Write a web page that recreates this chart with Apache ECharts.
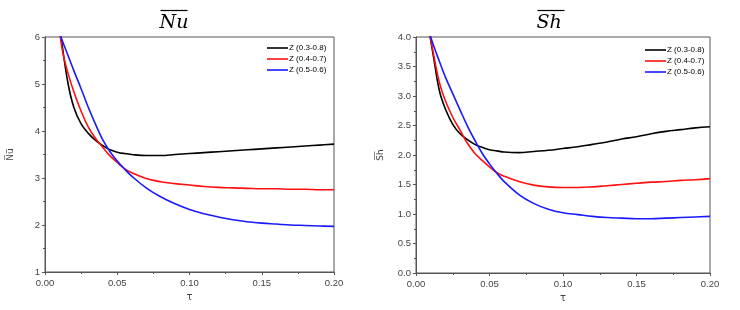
<!DOCTYPE html>
<html>
<head>
<meta charset="utf-8">
<script src="https://cdn.jsdelivr.net/npm/echarts@6/dist/echarts.min.js"></script>
<style>html,body{margin:0;padding:0;background:#fff}#c{width:740px;height:310px}</style>
</head>
<body>
<div id="c"></div>
<script>
var tau = [0.009,0.012,0.016,0.02,0.025,0.03,0.035,0.04,0.045,0.05,0.055,0.06,0.07,0.08,0.09,0.1,0.11,0.12,0.13,0.14,0.15,0.16,0.17,0.18,0.19,0.2];
var seriesNames = ['Z (0.3-0.8)','Z (0.4-0.7)','Z (0.5-0.6)'];
var nuZ38 = [6.5,5.8,5.0,4.5,4.15,3.95,3.8,3.69,3.6,3.55,3.52,3.5,3.48,3.48,3.5,3.52,3.54,3.56,3.58,3.6,3.62,3.64,3.66,3.68,3.7,3.72];
var nuZ47 = [6.45,5.72,5.22,4.83,4.42,4.08,3.84,3.65,3.47,3.33,3.2,3.11,2.99,2.92,2.88,2.85,2.82,2.8,2.79,2.78,2.77,2.77,2.76,2.76,2.75,2.75];
var nuZ56 = [6.17,5.92,5.6,5.28,4.9,4.5,4.14,3.81,3.56,3.36,3.19,3.04,2.79,2.6,2.45,2.33,2.24,2.17,2.11,2.07,2.04,2.02,2.0,1.99,1.98,1.97];
var shZ38 = [4.1,3.65,3.08,2.78,2.52,2.36,2.26,2.18,2.13,2.09,2.07,2.05,2.04,2.06,2.08,2.11,2.14,2.18,2.22,2.27,2.31,2.36,2.4,2.43,2.46,2.48];
var shZ47 = [4.1,3.7,3.22,2.92,2.64,2.42,2.2,2.03,1.91,1.8,1.7,1.64,1.55,1.49,1.46,1.45,1.45,1.46,1.48,1.5,1.52,1.54,1.55,1.57,1.58,1.6];
var shZ56 = [4.08,3.85,3.58,3.32,3.04,2.76,2.49,2.25,2.03,1.85,1.69,1.55,1.33,1.18,1.08,1.02,0.99,0.96,0.94,0.93,0.92,0.92,0.93,0.94,0.95,0.96];
var titles = ['Nu','Sh'];
var yNames = ['N\u0305u\u0305','S\u0305h\u0305'];
var xName = '\u03c4';
var colors = ['#000000','#ff1010','#1a1aff'];

function pairs(v){ return tau.map(function(t,i){ return [t, v[i]]; }); }

var axisText = {fontFamily:'Liberation Sans', fontSize:9.5, color:'#444'};
function xAxisCfg(idx){
  return {gridIndex:idx, type:'value', min:0, max:0.2, interval:0.05,
    name:xName, nameLocation:'middle', nameGap:19, nameTextStyle:{fontFamily:'DejaVu Sans',fontSize:10,color:'#444'},
    axisLine:{lineStyle:{color:'#555',width:1}},
    axisTick:{length:3,lineStyle:{color:'#555'}},
    minorTick:{show:true,splitNumber:2,length:2,lineStyle:{color:'#555'}},
    splitLine:{show:false},
    axisLabel:Object.assign({margin:6,formatter:function(v){return v.toFixed(2);}},axisText)};
}
function yAxisCfg(idx,min,max,interval,fmt,gap){
  return {gridIndex:idx, type:'value', min:min, max:max, interval:interval,
    name:yNames[idx], nameLocation:'middle', nameGap:gap, nameRotate:90,
    nameTextStyle:{fontFamily:'DejaVu Sans',fontSize:9,color:'#444'},
    axisLine:{lineStyle:{color:'#555',width:1}},
    axisTick:{length:3,lineStyle:{color:'#555'}},
    minorTick:{show:true,splitNumber:2,length:2,lineStyle:{color:'#555'}},
    splitLine:{show:false},
    axisLabel:Object.assign({margin:5,formatter:fmt},axisText)};
}
function line(name,data,idx,color){
  return {name:name,type:'line',xAxisIndex:idx,yAxisIndex:idx,data:pairs(data),
    symbol:'none',smooth:0.4,clip:true,lineStyle:{color:color,width:1.6},itemStyle:{color:color},animation:false};
}
function titleGraphic(cx,text){
  return {type:'group',left:cx-14,top:8,children:[
    {type:'line',shape:{x1:1,y1:0,x2:28,y2:0},style:{stroke:'#000',lineWidth:1.2}},
    {type:'text',x:0,y:3,style:{text:text,font:'italic 19px "DejaVu Serif"',fill:'#000'}}
  ]};
}
var legendIcon = 'path://M0,0 L21,0 L21,1.6 L0,1.6 Z';
function legendCfg(left,top){
  return {orient:'vertical',left:left,top:top,itemWidth:21,itemHeight:2,itemGap:1,icon:legendIcon,
    data:seriesNames.map(function(n){return {name:n};}),
    textStyle:{fontFamily:'Liberation Sans',fontSize:8,lineHeight:10,color:'#000',padding:[0,0,0,-4]}};
}

var chart = echarts.init(document.getElementById('c'),null,{renderer:'canvas'});
chart.setOption({
  backgroundColor:'#fff',
  animation:false,
  graphic:[titleGraphic(172,titles[0]),titleGraphic(549,titles[1])],
  grid:[
    {left:45,right:406,top:37,bottom:38,show:true,borderColor:'#555',borderWidth:1,backgroundColor:'transparent'},
    {left:416,right:30,top:37,bottom:37,show:true,borderColor:'#555',borderWidth:1,backgroundColor:'transparent'}
  ],
  legend:[legendCfg(262,38),legendCfg(640,40)],
  xAxis:[xAxisCfg(0),xAxisCfg(1)],
  yAxis:[
    yAxisCfg(0,1,6,1,function(v){return String(v);},30),
    yAxisCfg(1,0,4,0.5,function(v){return v.toFixed(1);},31)
  ],
  series:[
    line(seriesNames[0],nuZ38,0,colors[0]),
    line(seriesNames[1],nuZ47,0,colors[1]),
    line(seriesNames[2],nuZ56,0,colors[2]),
    line(seriesNames[0],shZ38,1,colors[0]),
    line(seriesNames[1],shZ47,1,colors[1]),
    line(seriesNames[2],shZ56,1,colors[2])
  ]
});
</script>
</body>
</html>
